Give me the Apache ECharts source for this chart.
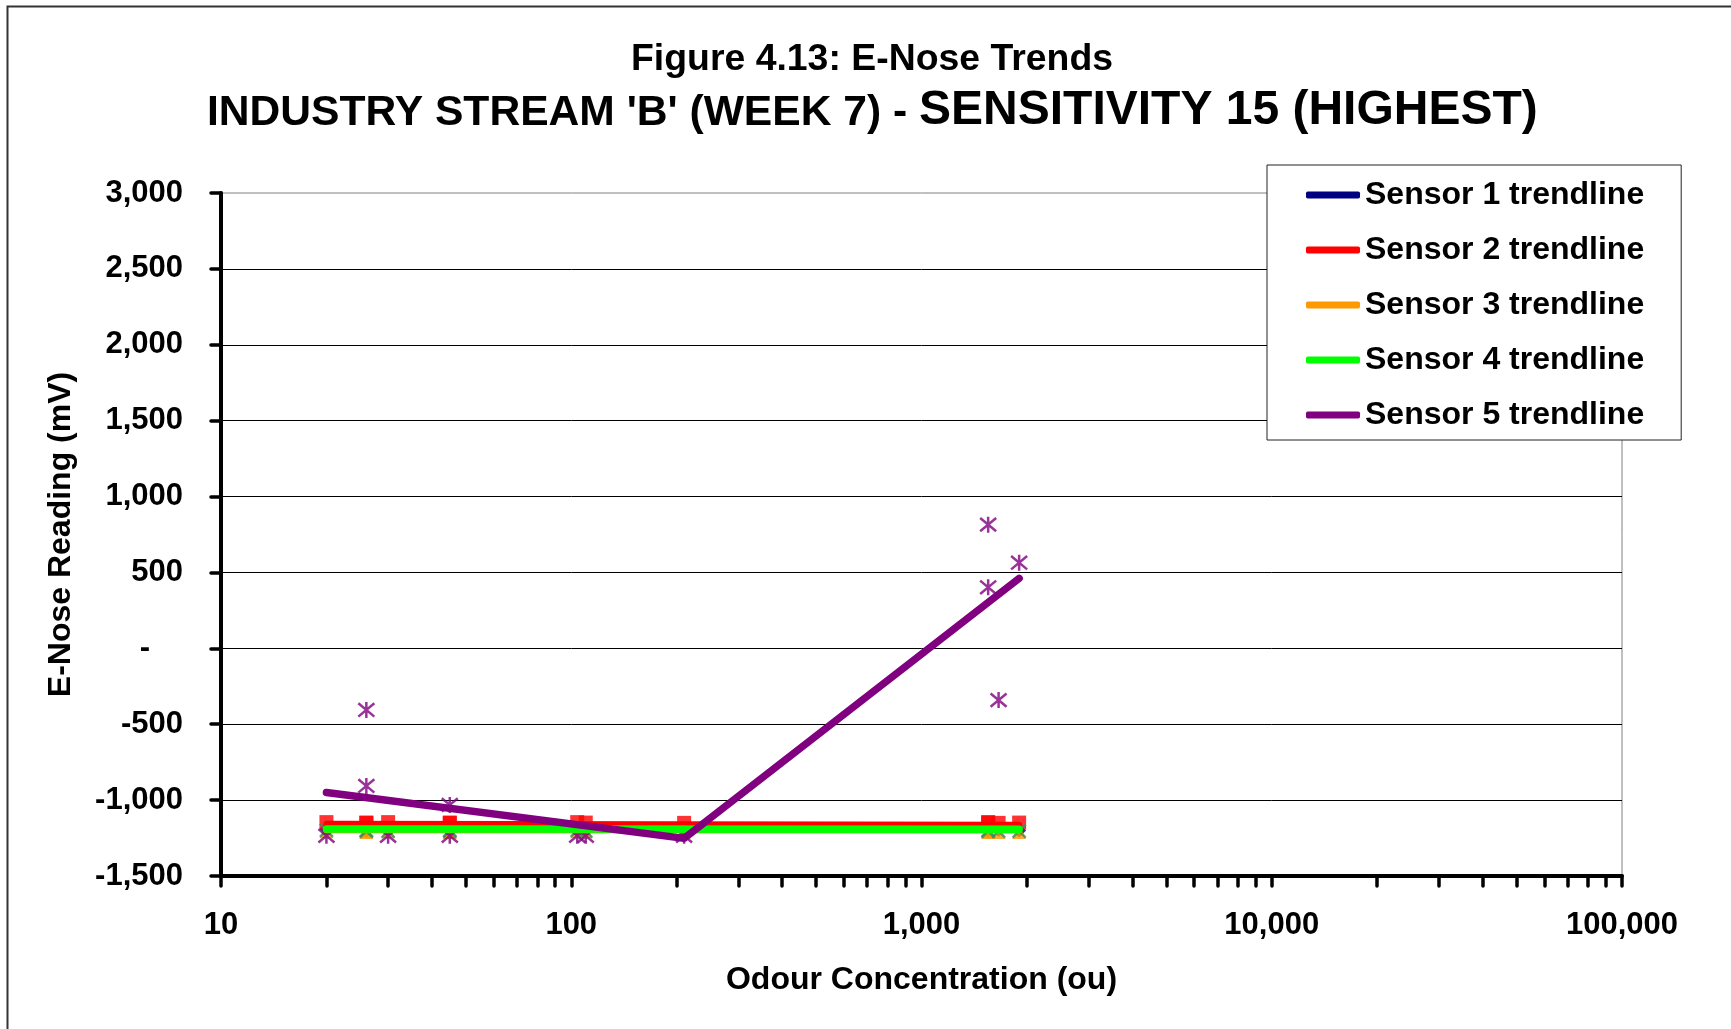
<!DOCTYPE html>
<html>
<head>
<meta charset="utf-8">
<style>
  html, body { margin: 0; padding: 0; background: #fff; }
  #chart { width: 1731px; height: 1029px; }
</style>
<script src="https://cdn.jsdelivr.net/npm/echarts@6/dist/echarts.min.js"></script>
</head>
<body>
<div id="chart"></div>
<script>
// odour concentration of each sample (ou)
const conc = [20, 26, 26, 30, 45, 45, 104, 110, 210, 1550, 1550, 1660, 1900];

// e-nose readings (mV) per sensor, one per sample
const sensor1 = [-1190, -1195, -1200, -1190, -1195, -1190, -1195, -1195, -1190, -1200, -1195, -1195, -1200];
const sensor2 = [-1145, -1148, -1150, -1145, -1148, -1150, -1145, -1148, -1150, -1148, -1145, -1150, -1148];
const sensor3 = [-1205, -1210, -1205, -1205, -1205, -1210, -1205, -1205, -1205, -1210, -1205, -1210, -1210];
const sensor4 = [-1200, -1205, -1200, -1205, -1200, -1205, -1200, -1205, -1200, -1205, -1200, -1205, -1205];
const sensor5 = [-1235, -406, -907, -1235, -1032, -1235, -1235, -1235, -1235, 815, 402, -341, 564];

// trendlines
const trendConc = [20, 1900];
const trend1 = [-1195, -1195];
const trend2 = [-1155, -1162];
const trend3 = [-1198, -1200];
const trend4 = [-1190, -1192];
const trend5Conc = [20, 210, 1900];
const trend5 = [-950, -1252, 461];

const names = ['Sensor 1', 'Sensor 2', 'Sensor 3', 'Sensor 4', 'Sensor 5'];
const colors = ['#000080', '#ff0000', '#ff9900', '#00ff00', '#800080'];

const font = "'Liberation Sans', Arial, sans-serif";

function pairs(xs, ys) {
    return xs.map((x, i) => [x, ys[i]]);
}

const chart = echarts.init(document.getElementById('chart'));

const markerStyles = [
    { symbol: 'diamond', symbolSize: 14, itemStyle: { color: colors[0] } },
    { symbol: 'rect', symbolSize: 14, itemStyle: { color: colors[1] } },
    { symbol: 'triangle', symbolSize: 14, itemStyle: { color: colors[2] } },
    { symbol: 'path://M0,0L10,10M10,0L0,10', symbolSize: 13,
      itemStyle: { color: 'transparent', borderColor: '#3a8f63', borderWidth: 2.5 } },
    { symbol: 'path://M0,1L10,11M10,1L0,11M5,0L5,12', symbolSize: 16,
      itemStyle: { color: 'transparent', borderColor: colors[4], borderWidth: 2.5 } }
];
const readings = [sensor1, sensor2, sensor3, sensor4, sensor5];

const scatterSeries = readings.map((vals, i) => Object.assign({
    name: names[i],
    type: 'scatter',
    data: pairs(conc, vals)
}, markerStyles[i]));

const trendData = [
    pairs(trendConc, trend1),
    pairs(trendConc, trend2),
    pairs(trendConc, trend3),
    pairs(trendConc, trend4),
    pairs(trend5Conc, trend5)
];
const trendWidths = [6, 6, 6, 7.5, 7.5];

const trendSeries = trendData.map((d, i) => ({
    name: names[i] + ' trendline',
    type: 'line',
    data: d,
    symbol: 'none',
    color: colors[i],
    lineStyle: { color: colors[i], width: trendWidths[i], cap: 'round', join: 'round' }
}));

const labelFont = { fontFamily: font, fontSize: 31, fontWeight: 'bold', color: '#000' };

const option = {
    animation: false,
    backgroundColor: '#fff',
    title: [
        {
            text: 'Figure 4.13: E-Nose Trends',
            left: 631, top: 41.5, padding: 0,
            textStyle: { fontFamily: font, fontSize: 37.4, fontWeight: 'bold', color: '#000' }
        },
        {
            text: "{a|INDUSTRY STREAM 'B' (WEEK 7) - }{b|SENSITIVITY 15 (HIGHEST)}",
            left: 207, top: 87, padding: 0,
            textStyle: {
                rich: {
                    a: { fontFamily: font, fontSize: 42.6, fontWeight: 'bold', color: '#000', verticalAlign: 'bottom' },
                    b: { fontFamily: font, fontSize: 48, fontWeight: 'bold', color: '#000', verticalAlign: 'bottom' }
                }
            }
        }
    ],
    legend: {
        data: trendSeries.map(s => s.name),
        orient: 'vertical',
        left: 1267, top: 165,
        padding: [14, 37, 9, 39],
        itemGap: 23,
        itemWidth: 54, itemHeight: 7,
        icon: 'roundRect',
        backgroundColor: '#fff',
        borderColor: '#222', borderWidth: 1,
        textStyle: { fontFamily: font, fontSize: 32, fontWeight: 'bold', color: '#000' }
    },
    grid: {
        left: 221, right: 109, top: 193, bottom: 153,
        show: true, borderColor: '#808080', borderWidth: 1
    },
    xAxis: {
        type: 'log', logBase: 10, min: 10, max: 100000,
        name: 'Odour Concentration (ou)', nameLocation: 'middle', nameGap: 88,
        nameTextStyle: { fontFamily: font, fontSize: 32, fontWeight: 'bold', color: '#000' },
        axisLine: { onZero: false, lineStyle: { color: '#000', width: 4 } },
        axisTick: { length: 10, lineStyle: { color: '#000', width: 3.5, cap: 'round' } },
        minorTick: { show: true, splitNumber: 9, length: 10, lineStyle: { color: '#000', width: 3.5, cap: 'round' } },
        splitLine: { show: false },
        axisLabel: Object.assign({
            margin: 34,
            formatter: v => Math.round(v).toLocaleString('en-US')
        }, labelFont)
    },
    yAxis: {
        type: 'value', min: -1500, max: 3000, interval: 500,
        name: 'E-Nose Reading (mV)', nameLocation: 'middle', nameGap: 144,
        nameTextStyle: { fontFamily: font, fontSize: 32, fontWeight: 'bold', color: '#000' },
        axisLine: { show: true, lineStyle: { color: '#000', width: 4 } },
        axisTick: { show: true, length: 10, lineStyle: { color: '#000', width: 3.5, cap: 'round' } },
        splitLine: { show: true, showMaxLine: false, lineStyle: { color: '#000', width: 1 } },
        axisLabel: Object.assign({
            margin: 38,
            formatter: v => v === 0 ? '{z|-}' : v.toLocaleString('en-US'),
            rich: { z: Object.assign({ padding: [0, 33, 0, 0] }, labelFont) }
        }, labelFont)
    },
    graphic: [
        {
            type: 'rect', left: 5, top: 4, silent: true, z: -1,
            shape: { x: 0, y: 0, width: 1800, height: 1100 },
            style: { fill: 'none', stroke: '#333', lineWidth: 2 }
        }
    ],
    series: scatterSeries.concat(trendSeries)
};

chart.setOption(option);
</script>
</body>
</html>
